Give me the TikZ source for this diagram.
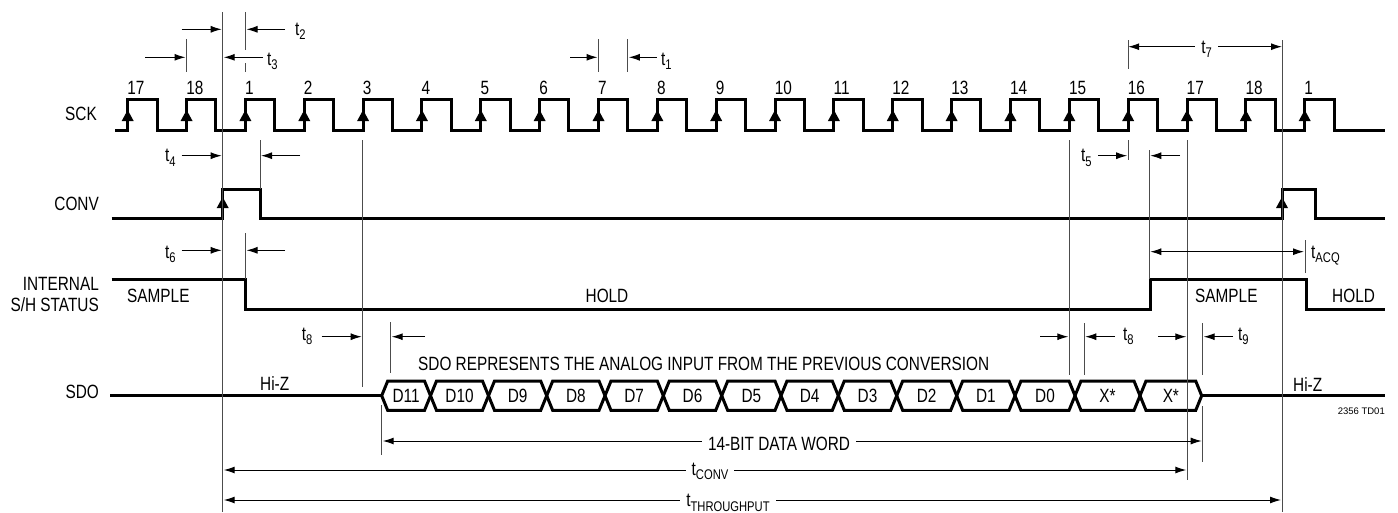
\documentclass[tikz,border=0pt]{standalone}
\usepackage{fontspec}
\setmainfont{Liberation Sans}[FakeStretch=0.8]
\newfontfamily\notefont{Liberation Sans}
\usetikzlibrary{arrows.meta}
\tikzset{
  sig/.style={line width=3pt, line join=miter},
  guide/.style={line width=0.9pt, black!70},
  dim/.style={line width=1pt, -{Latex[length=11pt,width=7pt]}},
  dimboth/.style={line width=1pt, {Latex[length=11pt,width=7pt]}-{Latex[length=11pt,width=7pt]}},
  lbl/.style={inner sep=0pt, font=\fontsize{19.2}{21}\selectfont},
  gap/.style={lbl, fill=white, inner xsep=6pt, inner ysep=3pt},
}
\newcommand{\tsub}[1]{t\raisebox{-4.5pt}{\fontsize{14}{15}\selectfont #1}}

\begin{document}
\begin{tikzpicture}[x=1pt, y=-1pt]
  \useasboundingbox (0,0) rectangle (1398,512);

  % signal names
  \node[lbl, anchor=base east] (sck)   at (97,120)  {SCK};
  \node[lbl, anchor=base east] (conv)  at (99,210)  {CONV};
  \node[lbl, anchor=base east] (intl)  at (99,290)  {INTERNAL};
  \node[lbl, anchor=base east] (shst)  at (99,311)  {S/H STATUS};
  \node[lbl, anchor=base east] (sdo)   at (99,398)  {SDO};

  % SCK
  \draw[sig] (115,130) foreach \k in {0,...,20} {
      -- ({127.7+58.85*\k},130) -- ++(0,-31) -- ++(29.3,0) -- ++(0,31) } -- (1385,130);
  \foreach \k in {0,...,20}
    \fill ({127.7+58.85*\k},110) -- ++(-6,11) -- ++(12,0) -- cycle;
  \foreach \n [count=\k from 0] in {17,18,1,2,3,4,5,6,7,8,9,10,11,12,13,14,15,16,17,18,1}
    \node[lbl, anchor=base west] (clk\k) at ({127.2+58.85*\k},94) {\n};

  % CONV
  \draw[sig] (111.7,218.3) -- (222.7,218.3) -- (222.7,189) -- (260,189) -- (260,218.3)
     -- (1282,218.3) -- (1282,189) -- (1315.7,189) -- (1315.7,218.3) -- (1385,218.3);
  \fill (222.7,197) -- ++(-6,11) -- ++(12,0) -- cycle;
  \fill (1282,197) -- ++(-6,11) -- ++(12,0) -- cycle;

  % S/H status
  \draw[sig] (111.7,279.3) -- (245.5,279.3) -- (245.5,309.3) -- (1150,309.3) -- (1150,279.3)
     -- (1306,279.3) -- (1306,309.3) -- (1385,309.3);
  \node[lbl, anchor=base west] (samp1) at (127,302) {SAMPLE};
  \node[lbl, anchor=base] (hold1) at (607,302) {HOLD};
  \node[lbl, anchor=base west] (samp2) at (1195,302) {SAMPLE};
  \node[lbl, anchor=base west] (hold2) at (1332,302) {HOLD};

  % SDO
  \draw[sig] (110,395.7) -- (381.7,395.7);
  \draw[sig] (1201.7,395.7) -- (1385,395.7);
  \foreach \a/\b/\bit [count=\i] in {381.7/430.5/D11, 430.5/488.5/D10, 488.5/546.7/D9,
      546.7/605/D8, 605/663.3/D7, 663.3/721.7/D6, 721.7/781/D5, 781/838.3/D4, 838.3/896.7/D3,
      896.7/956.7/D2, 956.7/1015/D1, 1015/1075/D0, 1075/1140/X*, 1140/1201.7/X*} {
    \draw[sig] (\a,395.7) -- (\a+6,381) -- (\b-6,381) -- (\b,395.7) -- (\b-6,410.4) -- (\a+6,410.4) -- cycle;
    \node[lbl] (bit\i) at ({(\a+\b)/2},396) {\bit};
  }
  \node[lbl, anchor=base west] (hiz1) at (260,390) {Hi-Z};
  \node[lbl, anchor=base west] (hiz2) at (1293,391) {Hi-Z};
  \node[lbl, anchor=base west] (prev) at (418,370) {SDO REPRESENTS THE ANALOG INPUT FROM THE PREVIOUS CONVERSION};
  \node[inner sep=0pt, anchor=base east, font=\notefont\fontsize{9.5}{10}\selectfont] (fig) at (1385,414) {2356 TD01};

  % guide lines
  \draw[guide] (222.7,12) -- (222.7,512);
  \draw[guide] (1282,40) -- (1282,512);
  \draw[guide] (245.5,12) -- (245.5,50) (245.5,63) -- (245.5,72);
  \draw[guide] (186.5,39) -- (186.5,72);
  \draw[guide] (598.5,39) -- (598.5,72) (627.8,39) -- (627.8,72);
  \draw[guide] (260,140) -- (260,189);
  \draw[guide] (245.5,233) -- (245.5,279);
  \draw[guide] (362.7,140) -- (362.7,387);
  \draw[guide] (390.7,322) -- (390.7,373);
  \draw[guide] (1069.3,140) -- (1069.3,375);
  \draw[guide] (1128.2,40) -- (1128.2,69) (1128.2,140) -- (1128.2,160);
  \draw[guide] (1149.3,150) -- (1149.3,279);
  \draw[guide] (1187.3,140) -- (1187.3,480);
  \draw[guide] (1084.3,323) -- (1084.3,375);
  \draw[guide] (1202.7,323) -- (1202.7,375) (1202.7,406) -- (1202.7,462);
  \draw[guide] (381.7,405) -- (381.7,455);
  \draw[guide] (1305,240) -- (1305,273);

  % timing marks
  \draw[dim] (181.7,29.3) -- (221.7,29.3);
  \draw[dim] (285,29.3) -- (246.5,29.3);
  \node[lbl, anchor=base west] (t2) at (295,35) {\tsub{2}};
  \draw[dim] (145,57.3) -- (185.5,57.3);
  \draw[dim] (263,57.3) -- (223.7,57.3);
  \node[lbl, anchor=base west] (t3) at (267,65) {\tsub{3}};
  \draw[dim] (570,57.3) -- (597.5,57.3);
  \draw[dim] (656.7,57.3) -- (628.8,57.3);
  \node[lbl, anchor=base west] (t1) at (661,65) {\tsub{1}};
  \draw[dimboth] (1128.2,46.7) -- (1282,46.7);
  \node[gap, anchor=base] (t7) at (1206.7,53.3) {\tsub{7}};

  \node[lbl, anchor=base west] (t4) at (165,161.7) {\tsub{4}};
  \draw[dim] (181.7,155.7) -- (221.7,155.7);
  \draw[dim] (300,155.7) -- (261,155.7);
  \node[lbl, anchor=base west] (t5) at (1081,161.7) {\tsub{5}};
  \draw[dim] (1098,155.7) -- (1127.2,155.7);
  \draw[dim] (1180,155.7) -- (1150.3,155.7);

  \node[lbl, anchor=base west] (t6) at (165,258) {\tsub{6}};
  \draw[dim] (181.7,250.3) -- (221.7,250.3);
  \draw[dim] (285,250.3) -- (246.5,250.3);
  \draw[dimboth] (1150.3,251.7) -- (1304,251.7);
  \node[lbl, anchor=base west] (tacq) at (1311,258) {\tsub{ACQ}};

  \node[lbl, anchor=base west] (t8a) at (301.7,340) {\tsub{8}};
  \draw[dim] (321.7,336.7) -- (361.7,336.7);
  \draw[dim] (425,336.7) -- (391.7,336.7);
  \draw[dim] (1040,336.7) -- (1068.3,336.7);
  \draw[dim] (1115,336.7) -- (1085.3,336.7);
  \node[lbl, anchor=base west] (t8b) at (1123,340) {\tsub{8}};
  \draw[dim] (1158.3,336.7) -- (1186.3,336.7);
  \draw[dim] (1233,336.7) -- (1203.7,336.7);
  \node[lbl, anchor=base west] (t9) at (1238,340) {\tsub{9}};

  % spans
  \draw[dimboth] (382.7,441) -- (1201.7,441);
  \node[gap, anchor=base] (word) at (779,450) {14-BIT DATA WORD};
  \draw[dimboth] (223.7,470) -- (1186.3,470);
  \node[gap, anchor=base] (tconv) at (710,475) {\tsub{CONV}};
  \draw[dimboth] (223.7,500) -- (1281,500);
  \node[gap, anchor=base] (tthr) at (728,506.5) {\tsub{THROUGHPUT}};
\end{tikzpicture}
\end{document}
